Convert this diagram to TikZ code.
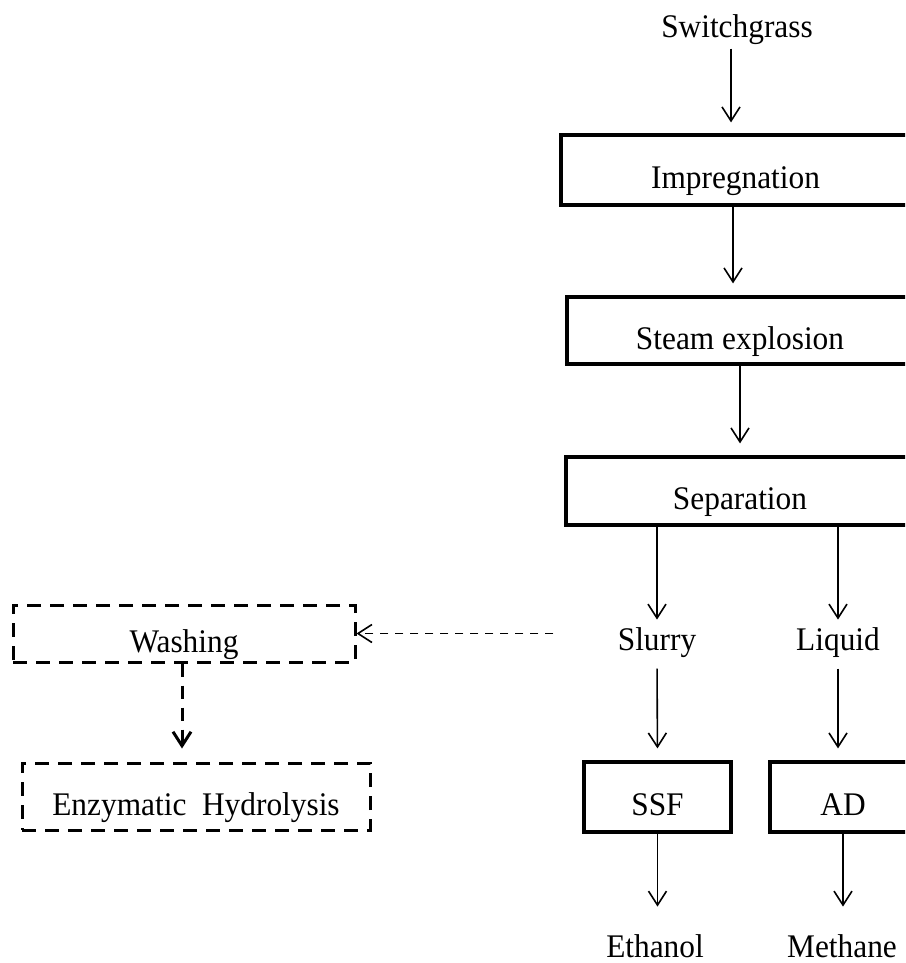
\documentclass[tikz,border=0pt]{standalone}
\usepackage{fontspec}
\setmainfont{Liberation Serif}[FakeStretch=0.95]
\usetikzlibrary{arrows.meta}

\begin{document}
\begin{tikzpicture}[x=1pt,y=-1pt,
    font=\fontsize{33}{38}\selectfont,
    >={Straight Barb[length=14pt,width=18pt]},
    stepbox/.style={draw,line width=3.2pt,inner sep=0pt,text height=37pt,text depth=0pt},
    optbox/.style={draw,line width=3pt,dash pattern=on 14pt off 9pt,inner sep=0pt,text height=37pt,text depth=0pt},
    flow/.style={line width=1.6pt},
    optflow/.style={line width=1.6pt,dash pattern=on 8pt off 7pt}]
    \useasboundingbox (0,0) rectangle (905,963);
    \clip (0,0) rectangle (905,963);

            \begin{scope}
                \node (sw)[anchor=base] at (737,38) {Switchgrass};
                \node (imp)[stepbox,minimum width=349pt,minimum height=70pt] at (735.5,170) {Impregnation};
                \node (steam)[stepbox,minimum width=346pt,minimum height=67pt] at (740,330.5) {Steam explosion};
                \node (sep)[stepbox,minimum width=348pt,minimum height=68pt] at (740,491) {Separation};
                \node (slurry)[anchor=base] at (657,650) {Slurry};
                \node (liquid)[anchor=base] at (838,650) {Liquid};
                \node (ssf)[stepbox,minimum width=147pt,minimum height=70pt] at (657.5,797) {SSF};
                \node (ad)[stepbox,minimum width=146pt,minimum height=70pt] at (843,797) {AD};
                \node (eth)[anchor=base] at (655,957) {Ethanol};
                \node (meth)[anchor=base] at (842,957) {Methane};
                \node (wash)[optbox,minimum width=342pt,minimum height=57pt] at (184,633.5) {Washing};
                \node (enz)[optbox,minimum width=348pt,minimum height=67pt] at (196,796.5) {Enzymatic\ \ Hydrolysis};
            \end{scope}

            \begin{scope}[flow]
                \path [->,shorten >=11pt] (731,0 |- sw.south) edge node {} (731,0 |- imp.north);
                \path [->,shorten >=12pt] (733,0 |- imp.south) edge node {} (733,0 |- steam.north);
                \path [->,shorten >=12pt] (740,0 |- steam.south) edge node {} (740,0 |- sep.north);
                \path [->,shorten >=4pt] (slurry |- sep.south) edge node {} (slurry.north);
                \path [->,shorten >=4pt] (liquid |- sep.south) edge node {} (liquid.north);
                \path [->,shorten <=8pt,shorten >=12pt] (slurry.south) edge node {} (ssf.north);
                \path [->,shorten <=8pt,shorten >=12pt] (liquid.south) edge node {} (liquid |- ad.north);
                \path [->,shorten >=24pt] (ssf.south) edge node {} (ssf |- eth.north);
                \path [->,shorten >=24pt] (ad.south) edge node {} (ad |- meth.north);
            \end{scope}

            \begin{scope}[optflow]
                \path [->,shorten <=61pt] (wash.east -| slurry.west) edge node {} (wash.east);
                \path [->,line width=3pt,dash pattern=on 13pt off 9pt,shorten >=13pt] (wash.south -| 182,0) edge node {} (enz.north -| 182,0);
            \end{scope}
\end{tikzpicture}
\end{document}
